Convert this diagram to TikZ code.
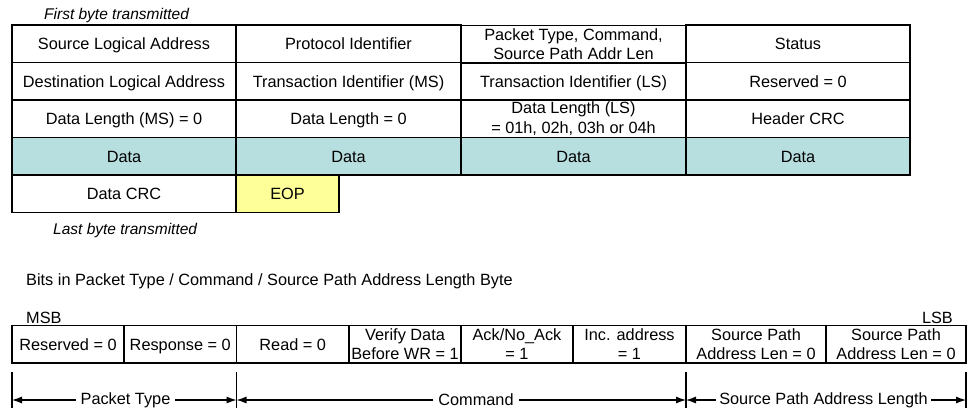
\documentclass[tikz,border=0pt]{standalone}
\usepackage{fontspec}
\setmainfont{Liberation Sans}
\usetikzlibrary{arrows.meta}
\definecolor{datacol}{HTML}{B8DFE0}
\definecolor{eopcol}{HTML}{FFFF99}
\tikzset{
  cell/.style={draw=black, line width=1.1pt, minimum height=37.5pt, inner sep=0pt, align=center,
    font=\fontsize{16.3}{19.5}\selectfont},
  one/.style={text height=12pt, text depth=0pt},
  datacell/.style={cell, one, fill=datacol},
  eopcell/.style={cell, one, fill=eopcol},
  plain/.style={inner sep=0pt, font=\fontsize{16.3}{18}\selectfont},
  itext/.style={inner sep=0pt, font=\fontsize{15.5}{18}\selectfont\itshape},
  tick/.style={line width=1.1pt},
  dim/.style={line width=1.1pt, {Latex[length=10pt,width=7pt]}-{Latex[length=10pt,width=7pt]}},
  dimlabel/.style={fill=white, inner xsep=5pt, inner ysep=1pt, font=\fontsize{16.3}{18}\selectfont}
}
\begin{document}
\begin{tikzpicture}[x=1pt,y=-1pt]
\useasboundingbox (0,0) rectangle (968,408);
% top table
\node[itext, anchor=west] (first) at (44,15) {First byte transmitted};
% row 1
\node[cell, one, minimum width=224pt] (a1) at (124,43.75) {Source Logical Address};
\node[cell, one, minimum width=225pt] (a2) at (348.5,43.75) {Protocol Identifier};
\node[cell, minimum width=225pt] (a3) at (573.5,44.2) {Packet Type, Command,\\Source Path Addr Len};
\node[cell, one, minimum width=224pt] (a4) at (798,43.75) {Status};
% row 2
\node[cell, one, minimum width=224pt] (b1) at (124,81.25) {Destination Logical Address};
\node[cell, one, minimum width=225pt] (b2) at (348.5,81.25) {Transaction Identifier (MS)};
\node[cell, one, minimum width=225pt] (b3) at (573.5,81.25) {Transaction Identifier (LS)};
\node[cell, one, minimum width=224pt] (b4) at (798,81.25) {Reserved = 0};
% row 3
\node[cell, one, minimum width=224pt] (c1) at (124,118.75) {Data Length (MS) = 0};
\node[cell, one, minimum width=225pt] (c2) at (348.5,118.75) {Data Length = 0};
\node[cell, minimum width=225pt] (c3) at (573.5,118.75) {Data Length (LS)\\= 01h, 02h, 03h or 04h};
\node[cell, one, minimum width=224pt] (c4) at (798,118.75) {Header CRC};
% row 4
\node[datacell, minimum width=224pt] (d1) at (124,156.25) {Data};
\node[datacell, minimum width=225pt] (d2) at (348.5,156.25) {Data};
\node[datacell, minimum width=225pt] (d3) at (573.5,156.25) {Data};
\node[datacell, minimum width=224pt] (d4) at (798,156.25) {Data};
% row 5
\node[cell, one, minimum width=224pt] (e1) at (124,193.75) {Data CRC};
\node[eopcell, minimum width=103pt] (e2) at (287.5,193.75) {EOP};
\node[itext, anchor=west] (last) at (53,230) {Last byte transmitted};
% bits
\node[plain, anchor=west] (bits) at (26,281) {Bits in Packet Type / Command / Source Path Address Length Byte};
\node[plain, anchor=west] (msb) at (26,318) {MSB};
\node[plain, anchor=east] (lsb) at (953,318) {LSB};
\node[cell, one, minimum width=112pt] (f1) at (68,344.25) {Reserved = 0};
\node[cell, one, minimum width=112.5pt] (f2) at (180.25,344.25) {Response = 0};
\node[cell, one, minimum width=112.5pt] (f3) at (292.75,344.25) {Read = 0};
\node[cell, minimum width=112pt] (f4) at (405,344.25) {Verify Data\\Before WR = 1};
\node[cell, minimum width=112pt] (f5) at (517,344.25) {Ack/No\_Ack\\= 1};
\node[cell, minimum width=113pt] (f6) at (629.5,344.25) {Inc. address\\= 1};
\node[cell, minimum width=140pt] (f7) at (756,344.25) {Source Path\\Address Len = 0};
\node[cell, minimum width=140pt] (f8) at (896,344.25) {Source Path\\Address Len = 0};
% dimension ticks
\coordinate (t1a) at (12,372); \coordinate (t1b) at (12,408);
\coordinate (t2a) at (236.5,372); \coordinate (t2b) at (236.5,408);
\coordinate (t3a) at (686,372); \coordinate (t3b) at (686,408);
\coordinate (t4a) at (966,372); \coordinate (t4b) at (966,408);
\draw[tick] (t1a) -- (t1b);
\draw[tick] (t2a) -- (t2b);
\draw[tick] (t3a) -- (t3b);
\draw[tick] (t4a) -- (t4b);
\coordinate (p1) at (12,400); \coordinate (p2) at (236.5,400);
\coordinate (p3) at (686,400); \coordinate (p4) at (966,400);
\draw[dim] (p1) -- (p2);
\draw[dim] (p2) -- (p3);
\draw[dim] (p3) -- (p4);
\node[dimlabel] (lpt) at (125.5,400) {Packet Type};
\node[dimlabel] (lcmd) at (476,400) {Command};
\node[dimlabel, inner xsep=3pt] (lspal) at (823.5,400) {Source Path Address Length};
\end{tikzpicture}
\end{document}
